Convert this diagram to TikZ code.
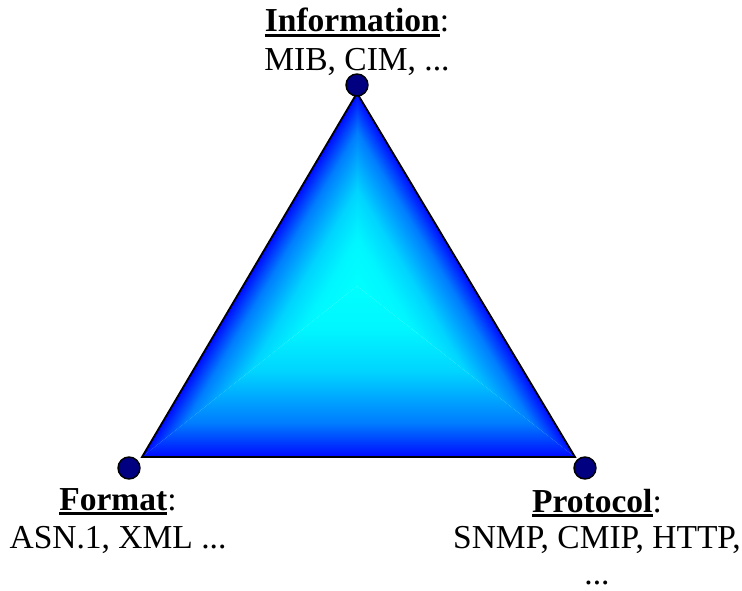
\documentclass[tikz,border=0pt]{standalone}
\usepackage{fontspec}
\setmainfont{Liberation Serif}
\definecolor{edgeblue}{RGB}{0,10,255}
\definecolor{faceA}{RGB}{0,125,255}
\definecolor{faceB}{RGB}{0,212,255}
\definecolor{faceC}{RGB}{0,246,255}
\definecolor{coreCyan}{RGB}{0,255,255}
\definecolor{dotnavy}{RGB}{0,0,128}
% colour ramp from an edge (bottom) to the centre (top);
% a filled path covers the band 25bp..75bp of the shading
\pgfdeclareverticalshading{triface}{100bp}{%
  color(0bp)=(edgeblue); color(25bp)=(edgeblue); color(35bp)=(faceA);
  color(50bp)=(faceB); color(62.5bp)=(faceC); color(75bp)=(coreCyan);
  color(100bp)=(coreCyan)}
% bold, heavily underlined heading word
\newcommand{\headword}[1]{\setbox0\hbox{\textbf{#1}}\rlap{\rule[-4.8pt]{\wd0}{3.2pt}}\box0}
\tikzset{
  lbl/.style={inner sep=0pt, font=\fontsize{33.5}{40}\selectfont, anchor=base},
  corner/.style={circle, draw=black, line width=1.4pt, fill=dotnavy, minimum size=22pt, inner sep=0pt},
  rim/.style={draw=black, line width=1.8pt, line join=miter}
}
% one third of the triangle: shaded from an edge (start point, angle, length)
% up to the common centre at distance #4
\newcommand{\shadepart}[7]{%
  \begin{scope}
    \clip #5 -- #6 -- #7 -- cycle;
    \begin{scope}[transform canvas={shift={#1}, rotate=#2}]
      \shade[shading=triface] (-30pt,0pt) rectangle (#3+30pt,#4);
    \end{scope}
  \end{scope}}
\begin{document}
\begin{tikzpicture}[x=1pt, y=1pt]
  \useasboundingbox (0,0) rectangle (742,590);
  \coordinate (A) at (357,497);
  \coordinate (B) at (142,133);
  \coordinate (C) at (575,133);
  \coordinate (O) at (357,304);

  % gradient fill, one sub-triangle per edge
  \shadepart{(142pt,133pt)}{0}{433pt}{171pt}{(B)}{(C)}{(O)}
  \shadepart{(575pt,133pt)}{120.91}{424.3pt}{99.1pt}{(C)}{(A)}{(O)}
  \shadepart{(357pt,497pt)}{239.43}{422.8pt}{98.1pt}{(A)}{(B)}{(O)}

  \draw[rim] (A) -- (B) -- (C) -- cycle;

  \node[corner] (dInfo) at (357,505) {};
  \node[corner] (dFormat) at (129,122) {};
  \node[corner] (dProto) at (585,122) {};

  \node[lbl] (infoHead) at (357,558) {\headword{Information}:};
  \node[lbl] (infoList) at (357,519) {MIB, CIM, ...};

  \node[lbl] (fmtHead) at (118,80) {\headword{Format}:};
  \node[lbl] (fmtList) at (118,42) {ASN.1, XML ...};

  \node[lbl] (protoHead) at (597,78) {\headword{Protocol}:};
  \node[lbl] (protoList) at (597,42) {SNMP, CMIP, HTTP,};
  \node[lbl] (protoMore) at (597,6) {...};
\end{tikzpicture}
\end{document}
